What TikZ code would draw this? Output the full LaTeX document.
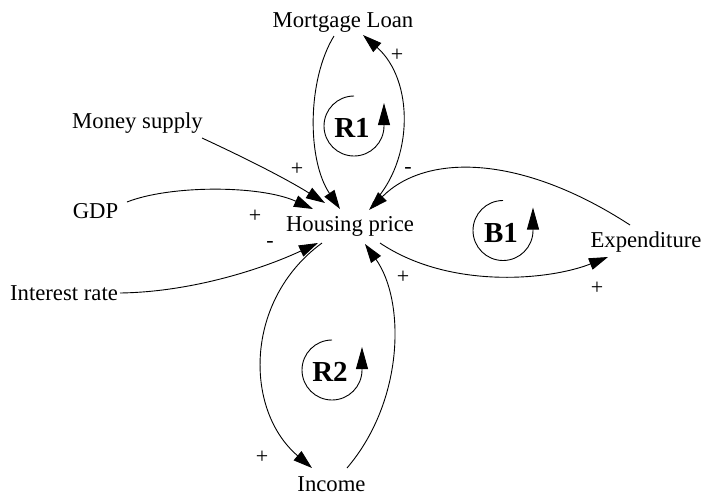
\documentclass[tikz,border=0pt]{standalone}
\usepackage{fontspec}
\setmainfont{Liberation Serif}
\usetikzlibrary{arrows.meta}
\begin{document}
\begin{tikzpicture}[x=1pt,y=-1pt,
  var/.style={anchor=base,inner sep=0pt,font=\fontsize{22.7}{26}\selectfont},
  sign/.style={inner sep=0pt,font=\fontsize{22}{26}\selectfont},
  looplabel/.style={anchor=base,inner sep=0pt,font=\fontsize{29}{34}\selectfont\bfseries},
  link/.style={line width=0.9pt,-{Triangle[length=19pt,width=12pt]}},
  loopmark/.style={line width=0.9pt,-{Triangle[length=22pt,width=12pt]}}]
\useasboundingbox (0,0) rectangle (702,496);

% variables
\node[var] (ml)  at (343,27)    {Mortgage Loan};
\node[var] (ms)  at (137.5,128) {Money supply};
\node[var] (gdp) at (95.5,218)  {GDP};
\node[var] (hp)  at (350,231)   {Housing price};
\node[var] (ir)  at (64,300)    {Interest rate};
\node[var] (ex)  at (646,247)   {Expenditure};
\node[var] (inc) at (331.5,491) {Income};

% causal links
\draw[link] ([shift={(-9,9)}]ml.base) .. controls (307,80) and (307,160) .. ([shift={(-10,-22)}]hp.base);
\draw[link] ([shift={(23,-28)}]hp.base) .. controls (414,160) and (414,80) .. ([shift={(20,8)}]ml.base);
\draw[link] ([shift={(64.5,10)}]ms.base) .. controls (243,157) and (285,178) .. ([shift={(-25,-28)}]hp.base);
\draw[link] ([shift={(31.5,-16)}]gdp.base) .. controls (170,185) and (260,185) .. ([shift={(-37,-22)}]hp.base);
\draw[link] ([shift={(56,-7)}]ir.base) .. controls (190,292) and (260,270) .. ([shift={(-32,12)}]hp.base);
\draw[link] ([shift={(-28,12)}]hp.base) .. controls (244,300) and (244,410) .. ([shift={(-19.5,-23)}]inc.base);
\draw[link] ([shift={(15.5,-23)}]inc.base) .. controls (405,400) and (405,300) .. ([shift={(15,13)}]hp.base);
\draw[link] ([shift={(30,12)}]hp.base) .. controls (450,290) and (550,280) .. ([shift={(-38,10)}]ex.base);
\draw[link] ([shift={(-16,-22)}]ex.base) .. controls (521,154) and (426,153) .. ([shift={(19,-21)}]hp.base);

% polarities
\node[sign] (s1) at (397,55)  {+};
\node[sign] (s2) at (408,170) {-};
\node[sign] (s3) at (297,169) {+};
\node[sign] (s4) at (255,216) {+};
\node[sign] (s5) at (270,244) {-};
\node[sign] (s6) at (403,277) {+};
\node[sign] (s7) at (597,288) {+};
\node[sign] (s8) at (262,457) {+};

% loop markers
\node[looplabel] (r1) at (352,137) {R1};
\draw[loopmark] (354,96) arc[start angle=90,end angle=360,radius=30pt] -- ++(0,-23);
\node[looplabel] (b1) at (501,242) {B1};
\draw[loopmark] (503,200.5) arc[start angle=90,end angle=360,radius=30pt] -- ++(0,-23);
\node[looplabel] (r2) at (330,381) {R2};
\draw[loopmark] (332,340) arc[start angle=90,end angle=360,radius=30pt] -- ++(0,-23);
\end{tikzpicture}
\end{document}
